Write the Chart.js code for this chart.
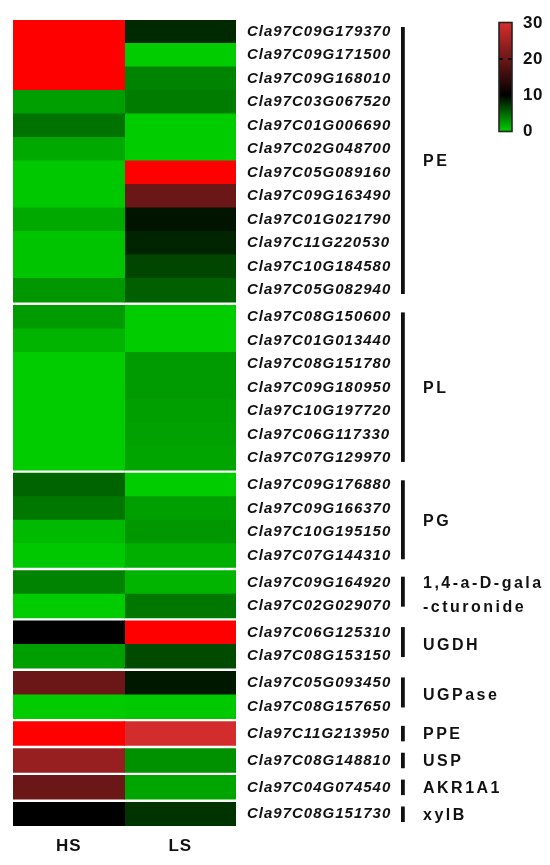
<!DOCTYPE html>
<html>
<head>
<meta charset="utf-8">
<script src="https://cdn.jsdelivr.net/npm/chart.js@4.4.1/dist/chart.umd.min.js"></script>
<style>
  html, body { margin: 0; padding: 0; background: #fff; }
  canvas { display: block; }
</style>
</head>
<body>
<canvas id="heatmap" width="550" height="865"></canvas>
<script>
// Gene IDs, top to bottom
const genes = [
  'Cla97C09G179370', 'Cla97C09G171500', 'Cla97C09G168010', 'Cla97C03G067520',
  'Cla97C01G006690', 'Cla97C02G048700', 'Cla97C05G089160', 'Cla97C09G163490',
  'Cla97C01G021790', 'Cla97C11G220530', 'Cla97C10G184580', 'Cla97C05G082940',
  'Cla97C08G150600', 'Cla97C01G013440', 'Cla97C08G151780', 'Cla97C09G180950',
  'Cla97C10G197720', 'Cla97C06G117330', 'Cla97C07G129970',
  'Cla97C09G176880', 'Cla97C09G166370', 'Cla97C10G195150', 'Cla97C07G144310',
  'Cla97C09G164920', 'Cla97C02G029070',
  'Cla97C06G125310', 'Cla97C08G153150',
  'Cla97C05G093450', 'Cla97C08G157650',
  'Cla97C11G213950',
  'Cla97C08G148810',
  'Cla97C04G074540',
  'Cla97C08G151730',
];

// Gene families and how many genes each holds
const groupNames = [
  ['PE'], ['PL'], ['PG'], ['1,4-a-D-gala', '-cturonide'], ['UGDH'],
  ['UGPase'], ['PPE'], ['USP'], ['AKR1A1'], ['xylB'],
];
const groupSizes = [12, 7, 4, 2, 2, 2, 1, 1, 1, 1];

// Expression values (values above 30 are off the scale)
const hsValues = [
  40, 40, 40, 2.2, 4.4, 1.7, 0.2, 0.2, 1.7, 0.4, 0.4, 2.6,
  2.4, 1.2, 0, 0, 0, 0, 0,
  5.1, 4.1, 0.9, 0.2,
  3.6, 0,
  10, 2.2,
  20, 0,
  40,
  24,
  20,
  10,
];
const lsValues = [
  8.0, 0, 3.6, 3.9, 0, 0, 40, 20, 9.0, 8.3, 6.6, 5.3,
  0, 0, 2.4, 2.4, 2.2, 2.1, 1.9,
  0, 2.2, 2.6, 1.4,
  1.2, 4.1,
  40, 6.3,
  8.8, 0.2,
  29.5,
  2.9,
  1.9,
  7.5,
];

const samples = ['HS', 'LS'];
const colorTicks = [0, 10, 20, 30];

const TEXT = '#111';
const FONT = "'Liberation Sans', Arial, sans-serif";

// green (0) -> black (10) -> red (30); anything above 30 is saturated red
function heatColor(v) {
  if (v > 30) return 'rgb(255,0,0)';
  if (v <= 10) {
    const g = Math.round(204 * (1 - Math.max(v, 0) / 10));
    return `rgb(0,${g},0)`;
  }
  const t = (v - 10) / 20;
  return `rgb(${Math.round(215 * t)},${Math.round(45 * t)},${Math.round(45 * t)})`;
}

// Row layout in "row units": each gene is 1, families are split by a small gap
const GAP = 0.144;
const rowTop = [];
const groupSpan = [];
let pos = 0;
groupSizes.forEach((n, gi) => {
  if (gi > 0) pos += GAP;
  const start = pos;
  for (let k = 0; k < n; k++) {
    rowTop.push(pos);
    pos += 1;
  }
  groupSpan.push([start, pos]);
});
const yMax = pos;
const rowCenters = rowTop.map(t => t + 0.5);

function cells(values, sample) {
  return values.map((v, i) => ({ x: sample, y: [rowTop[i], rowTop[i] + 1] }));
}

function cellDataset(label, values) {
  return {
    label,
    data: cells(values, label),
    backgroundColor: ctx => heatColor(values[ctx.dataIndex]),
    borderWidth: 0,
    grouped: false,
    barPercentage: 1,
    categoryPercentage: 1,
    inflateAmount: 0.5,
  };
}

// Family brackets + labels, and the colour key
const annotations = {
  id: 'annotations',
  beforeDraw(chart) {
    chart.ctx.letterSpacing = '1px';
  },
  afterDraw(chart) {
    const { ctx } = chart;
    const y = chart.scales.y;

    ctx.save();
    ctx.fillStyle = TEXT;
    ctx.font = `bold 16px ${FONT}`;
    ctx.letterSpacing = '2.5px';
    ctx.textAlign = 'left';
    ctx.textBaseline = 'middle';
    groupSpan.forEach(([a, b], gi) => {
      const top = y.getPixelForValue(a);
      const bottom = y.getPixelForValue(b);
      const n = groupSizes[gi];
      const t0 = n > 1 ? (n > 2 ? 7 : 6) : 4;
      const b0 = n > 1 ? (n > 2 ? 8 : 11) : 4;
      ctx.fillRect(401, top + t0, 3.8, bottom - top - t0 - b0);
      const lines = groupNames[gi];
      const mid = (top + bottom) / 2 + 1;
      lines.forEach((txt, li) => {
        ctx.fillText(txt, 423, mid + (li - (lines.length - 1) / 2) * 24);
      });
    });

    // colour key
    const cb = { left: 499, right: 512, top: 23, bottom: 131 };
    const vy = v => cb.bottom - (v / 30) * (cb.bottom - cb.top);
    const grad = ctx.createLinearGradient(0, cb.bottom, 0, cb.top);
    for (let v = 0; v <= 30; v += 2.5) grad.addColorStop(v / 30, heatColor(v));
    ctx.fillStyle = grad;
    ctx.fillRect(cb.left, cb.top - 0.5, cb.right - cb.left, cb.bottom - cb.top + 1);
    ctx.strokeStyle = '#222';
    ctx.lineWidth = 1.6;
    ctx.strokeRect(cb.left, cb.top - 0.5, cb.right - cb.left, cb.bottom - cb.top + 1);
    ctx.fillStyle = '#111';
    ctx.fillRect(cb.left, vy(20) - 1, 4, 2);
    ctx.fillRect(cb.right - 4, vy(20) - 1, 4, 2);

    ctx.fillStyle = TEXT;
    ctx.font = `bold 17px ${FONT}`;
    ctx.letterSpacing = '0.5px';
    colorTicks.forEach(v => ctx.fillText(String(v), 523, vy(v) + 0.5));
    ctx.restore();
  },
};

new Chart(document.getElementById('heatmap'), {
  type: 'bar',
  data: {
    labels: samples,
    datasets: [cellDataset('HS', hsValues), cellDataset('LS', lsValues)],
  },
  options: {
    responsive: false,
    animation: false,
    layout: { padding: { left: 13, top: 16, right: 0, bottom: 0 } },
    plugins: {
      legend: { display: false },
      tooltip: { enabled: false },
    },
    scales: {
      x: {
        type: 'category',
        grid: { display: false, drawTicks: false },
        border: { display: false },
        ticks: {
          color: TEXT,
          font: { family: FONT, size: 17, weight: 'bold' },
          padding: 10,
        },
        afterFit: scale => { scale.height = 39; },
      },
      y: {
        type: 'linear',
        position: 'right',
        reverse: true,
        min: 0,
        max: yMax,
        grid: { display: false, drawTicks: false },
        border: { display: false },
        afterBuildTicks: scale => {
          scale.ticks = rowCenters.map(v => ({ value: v }));
        },
        ticks: {
          autoSkip: false,
          color: TEXT,
          padding: 11,
          font: { family: FONT, size: 15, weight: 'bold', style: 'italic' },
          callback: (value, index) => genes[index],
        },
        afterFit: scale => { scale.width = 314; },
      },
    },
  },
  plugins: [annotations],
});
</script>
</body>
</html>
